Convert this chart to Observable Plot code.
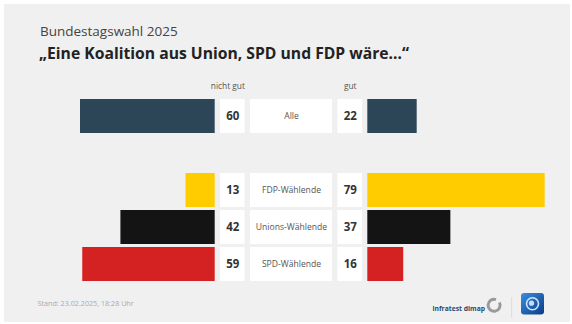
<!DOCTYPE html>
<html><head><meta charset="utf-8">
<script src="https://cdn.jsdelivr.net/npm/d3@7"></script>
<script src="https://cdn.jsdelivr.net/npm/@observablehq/plot@0.6"></script>
<style>
html,body{margin:0;padding:0;background:#fff}
body{width:572px;height:324px;overflow:hidden;position:relative;font-family:"Open Sans",sans-serif}
#panel{position:absolute;left:4px;top:4px;width:566px;height:318px;background:#f0f0f0}
#chart{position:absolute;left:0;top:0}
#deco{position:absolute;left:0;top:0}
</style>
</head><body>
<div id="panel"></div>
<svg id="deco" width="572" height="324" xmlns="http://www.w3.org/2000/svg" font-family="Open Sans, sans-serif">
  <defs>
    <linearGradient id="ard" x1="0" y1="0" x2="1" y2="1">
      <stop offset="0" stop-color="#3a8fe0"/>
      <stop offset="1" stop-color="#0b3a86"/>
    </linearGradient>
  </defs>
  <text id="t1" x="40" y="36" font-size="13.5" fill="#444"></text>
  <text id="t2" x="39" y="59" font-size="15.7" font-weight="700" fill="#222"></text>
  <text id="t3" x="37.5" y="306" font-size="7.2" fill="#aaa"></text>
  <text id="t4" x="432.5" y="310.5" font-size="7.6" font-weight="700" fill="#2b4a6c" textLength="52.5" lengthAdjust="spacingAndGlyphs"></text>
  <path d="M 499.4 302.5 A 6 6 0 1 1 496 299.6" fill="none" stroke="#9a9a9a" stroke-width="3"/>
  <line x1="511.7" y1="297" x2="511.7" y2="318" stroke="#dcdcdc" stroke-width="1"/>
  <rect x="521" y="293" width="23" height="21.5" rx="3" fill="url(#ard)"/>
  <circle cx="532.5" cy="303.7" r="6" fill="none" stroke="#cfe6ff" stroke-width="1.6"/>
  <circle cx="531.5" cy="303.2" r="2.6" fill="#e8f3ff" opacity="0.85"/>
</svg>
<div id="chart"></div>
<script>
const title = "Bundestagswahl 2025";
const subtitle = "„Eine Koalition aus Union, SPD und FDP wäre…“";
const source = "Stand:  23.02.2025, 18:28 Uhr";
const brand = "infratest dimap";
const headLeft = "nicht gut";
const headRight = "gut";

const categories = ["Alle", "FDP-Wählende", "Unions-Wählende", "SPD-Wählende"];
const nichtGut = [60, 13, 42, 59];
const gut = [22, 79, 37, 16];
const barColors = ["#2c4657", "#ffcc00", "#141414", "#d42222"];

document.getElementById("t1").textContent = title;
document.getElementById("t2").textContent = subtitle;
document.getElementById("t3").textContent = source;
document.getElementById("t4").textContent = brand;

const data = categories.map((c, i) => ({cat: c, nichtGut: nichtGut[i], gut: gut[i], color: barColors[i]}));
const rows = ["Alle", "_gap", "FDP-Wählende", "Unions-Wählende", "SPD-Wählende"];

// layout (pixels), converted to x units
const PXU = 200 / 449; // units per pixel
const OFF = 76.3;       // bar start offset from centre
const numIn = 46.5, numOut = 71, labHalf = 41, numMid = 58.75;

const chart = Plot.plot({
  width: 572,
  height: 324,
  marginLeft: 66.5,
  marginRight: 56.5,
  marginTop: 94.6,
  marginBottom: 39,
  style: {background: "transparent", fontFamily: "Open Sans, sans-serif", overflow: "visible"},
  x: {domain: [-100, 100], axis: null},
  y: {domain: rows, padding: 0.09, axis: null},
  color: {type: "identity"},
  marks: [
    Plot.barX(data, {y: "cat", x1: 0, x2: d => -d.nichtGut, fill: "color", dx: -OFF}),
    Plot.barX(data, {y: "cat", x1: 0, x2: d => d.gut, fill: "color", dx: OFF}),
    Plot.barX(data, {y: "cat", x1: -numOut * PXU, x2: -numIn * PXU, fill: "white"}),
    Plot.barX(data, {y: "cat", x1: -labHalf * PXU, x2: labHalf * PXU, fill: "white"}),
    Plot.barX(data, {y: "cat", x1: numIn * PXU, x2: numOut * PXU, fill: "white"}),
    Plot.text(data, {y: "cat", x: 0, dx: -numMid, text: d => String(d.nichtGut), fontWeight: "bold", fontSize: 11.5, fill: "#333"}),
    Plot.text(data, {y: "cat", x: 0, dx: numMid, text: d => String(d.gut), fontWeight: "bold", fontSize: 11.5, fill: "#333"}),
    Plot.text(data, {y: "cat", x: 0, text: "cat", fontSize: 8.6, fill: "#555"}),
    Plot.text([headLeft], {y: () => "Alle", x: 0, dx: -numIn, dy: -30, text: d => d, textAnchor: "end", fontSize: 8.4, fill: "#555"}),
    Plot.text([headRight], {y: () => "Alle", x: 0, dx: numMid, dy: -30, text: d => d, fontSize: 8.4, fill: "#555"})
  ]
});
document.getElementById("chart").appendChild(chart);
</script>
</body></html>
